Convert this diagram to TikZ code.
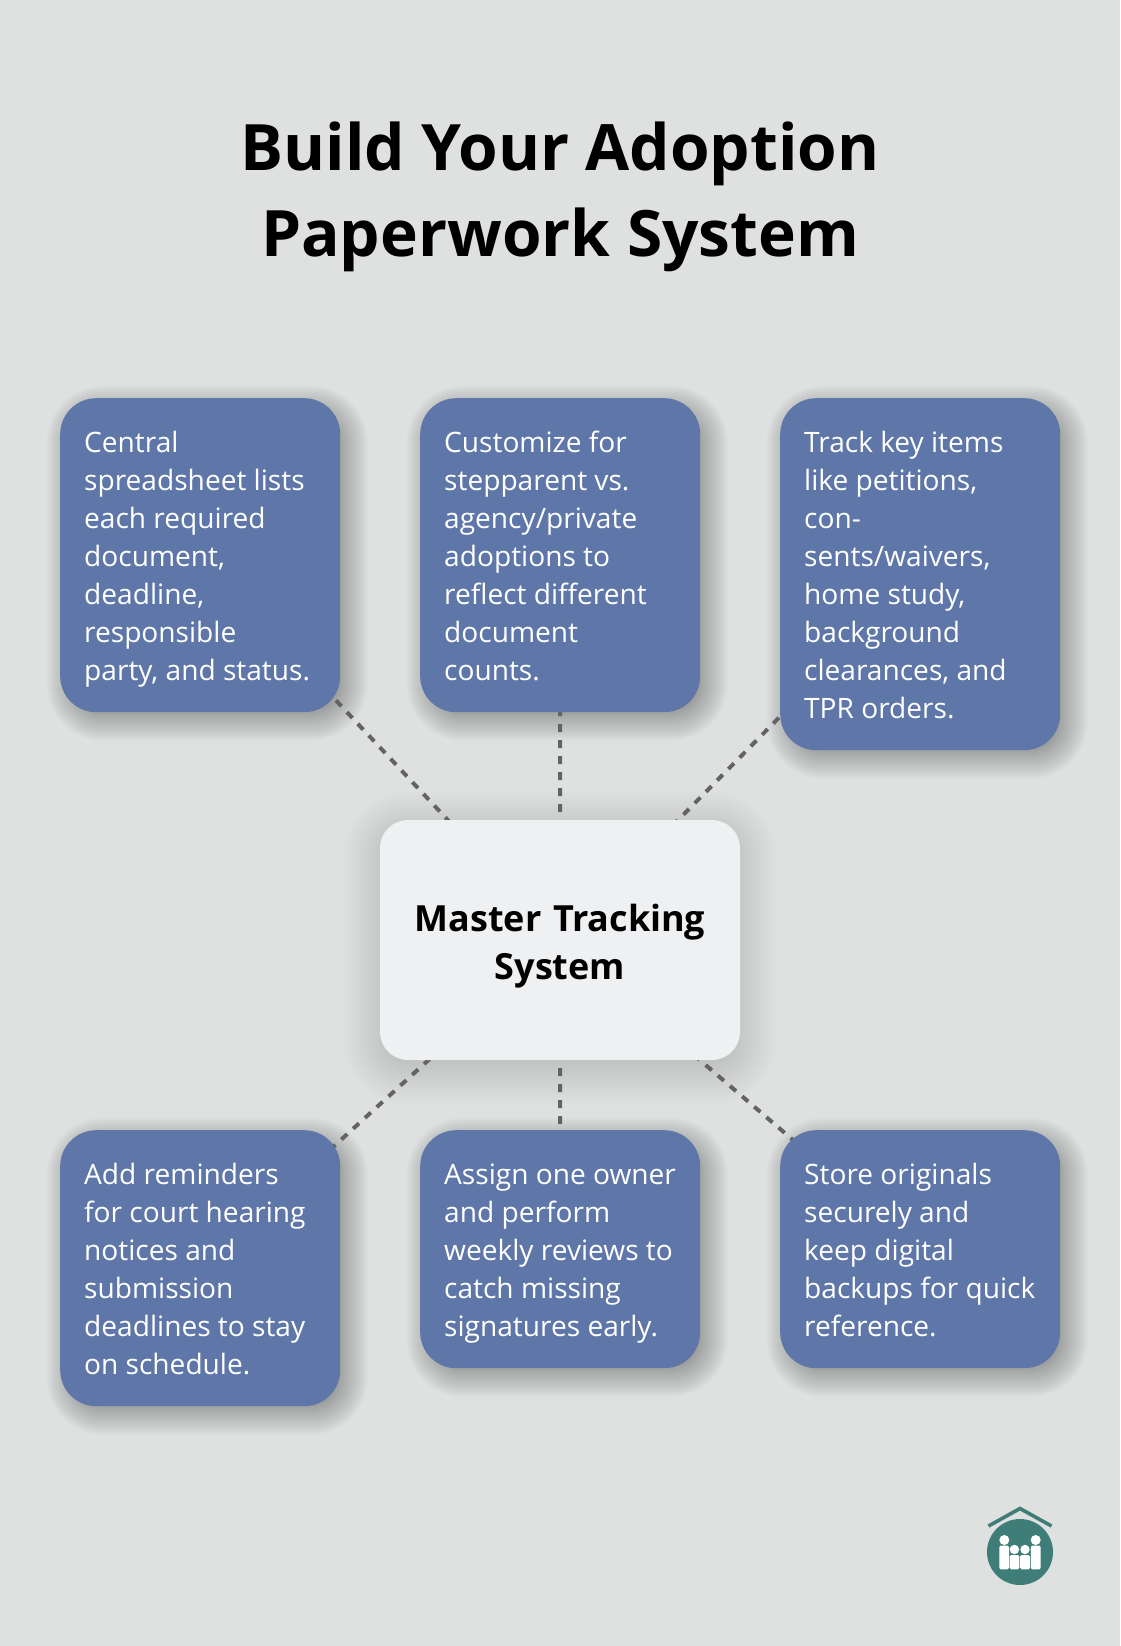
\documentclass[tikz,border=0pt]{standalone}
\usepackage{fontspec}
\setmainfont{Open Sans}
\usetikzlibrary{calc}
\definecolor{bgc}{HTML}{DFE1E0}
\definecolor{bluec}{HTML}{5E77A8}
\definecolor{centerc}{HTML}{EFF0F2}
\definecolor{tealc}{HTML}{3F7D78}
\definecolor{linec}{HTML}{636363}
\pgfdeclarelayer{back}
\pgfsetlayers{back,main}
\tikzset{
  x=1pt,y=-1pt,
  itembox/.style={draw=none,fill=bluec,text=white,rounded corners=36pt,text width=250pt,minimum width=280pt,inner xsep=15pt,inner ysep=0pt,anchor=north west,align=left,font=\fontsize{28.1}{38}\selectfont,execute at begin node={\spaceskip=0pt\xspaceskip=0pt\leftskip=9pt\rule{0pt}{33.4pt}},execute at end node=\strut},
  hubbox/.style={draw=none,fill=centerc,text=black,rounded corners=28pt,text width=360pt,minimum width=360pt,minimum height=240pt,inner sep=0pt,align=center,font=\fontsize{36}{48}\selectfont\bfseries,execute at begin node={\spaceskip=0pt\xspaceskip=0pt\rule{0pt}{46pt}},execute at end node=\strut},
  titletext/.style={text=black,align=center,inner sep=0pt,font=\fontsize{64}{86}\selectfont\bfseries,execute at begin node=\strut,execute at end node=\strut},
  spoke/.style={draw=linec,line width=4pt,dash pattern=on 8pt off 8pt},
}
\newcommand{\softshadow}[6]{% node, dx, dy, radius, spread list, opacity
  \foreach \s in {#5}{
    \fill[black,opacity=#6,rounded corners={max(#4+\s,4)*1pt}]
      ($(#1.north west)+(#2-\s,#3-\s)$) rectangle ($(#1.south east)+(#2+\s,#3+\s)$);
  }}
\begin{document}
\begin{tikzpicture}
\useasboundingbox (0,0) rectangle (1120,1646);
\begin{pgfonlayer}{back}
\fill[bgc] (0,0) rectangle (1120,1646);
\end{pgfonlayer}
\node[titletext] (title) at (560,202) {Build Your Adoption\\Paperwork System};

\node[hubbox] (hub) at (560,940) {Master Tracking\\System};

\node[itembox,minimum height=314pt] (a) at (60,398) {Central\\spreadsheet lists\\each required\\document,\\deadline,\\responsible\\party, and status.};
\node[itembox,minimum height=314pt] (b) at (420,398) {Customize for\\stepparent vs.\\agency/private\\adoptions to\\reflect different\\document\\counts.};
\node[itembox,minimum height=352pt] (c) at (780,398) {Track key items\\like petitions,\\con-\\sents/waivers,\\home study,\\background\\clearances, and\\TPR orders.};
\node[itembox,minimum height=276pt] (d) at (60,1130) {Add reminders\\for court hearing\\notices and\\submission\\deadlines to stay\\on schedule.};
\node[itembox,minimum height=238pt] (e) at (420,1130) {Assign one owner\\and perform\\weekly reviews to\\catch missing\\signatures early.};
\node[itembox,minimum height=238pt] (f) at (780,1130) {Store originals\\securely and\\keep digital\\backups for quick\\reference.};

\begin{pgfonlayer}{back}
\softshadow{hub}{0}{8}{28}{36,33,30,27,24,21,18,15,12,9,6,3,0,-3,-6,-9,-12}{0.008}
\foreach \n in {a,b,c,d,e,f}{\softshadow{\n}{7}{8}{36}{20,18,16,14,12,10,8,6,4,2,0,-2,-4,-6,-8,-10,-12,-14}{0.021}}
\foreach \n in {a,b,c,d,e,f}{\draw[spoke] (hub.center) -- (\n.center);}
\end{pgfonlayer}

% logo
\fill[tealc] (1020,1552) circle (33);
\draw[tealc,line width=3.6pt] (988.5,1526) -- (1020,1508.5) -- (1051.5,1526);
\fill[white] (1004.3,1540) circle (5);
\fill[white] (1035.7,1540) circle (5);
\fill[white] (1014.4,1549.5) circle (4.7);
\fill[white] (1025,1549.5) circle (4.7);
\fill[white,rounded corners=1.5pt] (999.3,1545.5) rectangle (1009,1569.3);
\fill[white,rounded corners=1.5pt] (1030.8,1545.5) rectangle (1040.7,1569.3);
\fill[white,rounded corners=1.5pt] (1009.7,1555) rectangle (1019.4,1569.3);
\fill[white,rounded corners=1.5pt] (1020.2,1555) rectangle (1030,1569.3);
\end{tikzpicture}
\end{document}
